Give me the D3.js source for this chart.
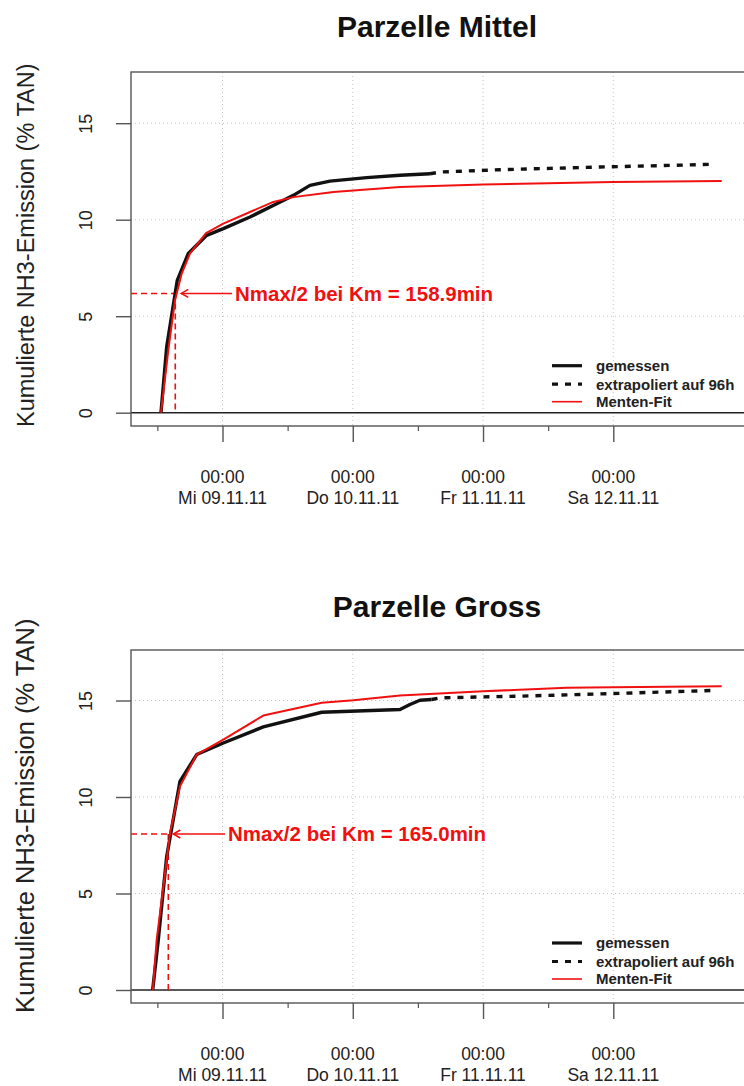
<!DOCTYPE html>
<html><head><meta charset="utf-8">
<script src="https://cdn.jsdelivr.net/npm/d3@7"></script>
<style>
body{margin:0;background:#fff;}
svg{display:block;font-family:"Liberation Sans",Arial,Helvetica,sans-serif;}
</style></head>
<body><svg id="c" width="744" height="1086"></svg>
<script>
// ---------- data ----------
const panelTitles = ["Parzelle Mittel", "Parzelle Gross"];
const yTicks = [0, 5, 10, 15];
const xMajorTicks = ["2011-11-09 00:00", "2011-11-10 00:00", "2011-11-11 00:00", "2011-11-12 00:00"];
const xMinorTicks = ["2011-11-08 12:00", "2011-11-09 12:00", "2011-11-10 12:00", "2011-11-11 12:00"];
const xTickTimeLabels = ["00:00", "00:00", "00:00", "00:00"];
const xTickDateLabels = ["Mi 09.11.11", "Do 10.11.11", "Fr 11.11.11", "Sa 12.11.11"];
const legendLabels = ["gemessen", "extrapoliert auf 96h", "Menten-Fit"];
const yAxisTitle = "Kumulierte NH3-Emission (% TAN)";

// Parzelle Mittel
const mittelMeasTime = ["2011-11-08 12:40","2011-11-08 13:43","2011-11-08 15:40","2011-11-08 17:42","2011-11-08 21:05","2011-11-09 00:09","2011-11-09 05:04","2011-11-09 09:59","2011-11-09 13:03","2011-11-09 16:07","2011-11-09 19:48","2011-11-10 02:34","2011-11-10 08:42","2011-11-10 14:14"];
const mittelMeasVal  = [0, 3.41, 6.86, 8.25, 9.19, 9.54, 10.14, 10.83, 11.26, 11.78, 12.00, 12.18, 12.30, 12.38];
const mittelExtTime  = ["2011-11-10 14:14","2011-11-10 16:04","2011-11-11 03:07","2011-11-11 12:20","2011-11-11 21:32","2011-11-12 08:36","2011-11-12 18:20"];
const mittelExtVal   = [12.38, 12.47, 12.59, 12.66, 12.73, 12.80, 12.87];
const mittelFitTime  = ["2011-11-08 12:40","2011-11-08 14:01","2011-11-08 15:15","2011-11-08 16:29","2011-11-08 18:01","2011-11-08 20:58","2011-11-09 00:09","2011-11-09 05:04","2011-11-09 09:22","2011-11-09 13:03","2011-11-09 20:25","2011-11-10 08:42","2011-11-11 00:03","2011-11-12 00:00","2011-11-12 19:58"];
const mittelFitVal   = [0, 3.24, 5.83, 7.21, 8.25, 9.31, 9.80, 10.40, 10.92, 11.17, 11.43, 11.69, 11.83, 11.95, 12.00];
const mittelKmTime = "2011-11-08 15:18";
const mittelHalfMax = 6.18;
const mittelLabel = "Nmax/2 bei Km = 158.9min";

// Parzelle Gross
const grossMeasTime = ["2011-11-08 11:08","2011-11-08 12:10","2011-11-08 13:43","2011-11-08 16:10","2011-11-08 19:15","2011-11-09 00:09","2011-11-09 07:31","2011-11-09 18:17","2011-11-10 08:42","2011-11-10 10:32","2011-11-10 12:23","2011-11-10 14:32"];
const grossMeasVal  = [0, 2.59, 6.92, 10.81, 12.20, 12.80, 13.63, 14.39, 14.53, 14.79, 15.01, 15.05];
const grossExtTime  = ["2011-11-10 14:32","2011-11-10 16:04","2011-11-11 06:12","2011-11-12 00:00","2011-11-12 18:25"];
const grossExtVal   = [15.05, 15.14, 15.22, 15.36, 15.52];
const grossFitTime  = ["2011-11-08 11:10","2011-11-08 11:52","2011-11-08 13:25","2011-11-08 14:20","2011-11-08 16:10","2011-11-08 19:15","2011-11-09 00:09","2011-11-09 07:31","2011-11-09 18:17","2011-11-10 00:06","2011-11-10 08:42","2011-11-11 00:03","2011-11-11 15:25","2011-11-12 00:00","2011-11-12 19:58"];
const grossFitVal   = [0, 2.59, 6.06, 8.13, 10.55, 12.20, 12.97, 14.22, 14.88, 15.01, 15.26, 15.48, 15.66, 15.69, 15.74];
const grossKmTime = "2011-11-08 14:01";
const grossHalfMax = 8.08;
const grossLabel = "Nmax/2 bei Km = 165.0min";

// ---------- drawing ----------
const parse = d3.timeParse("%Y-%m-%d %H:%M");
const svg = d3.select("#c");
const RED = "#f01010";
const FONT = "'Liberation Sans',Arial,Helvetica,sans-serif";

const x = d3.scaleTime()
  .domain([parse("2011-11-09 00:00"), parse("2011-11-12 00:00")])
  .range([222.5, 613.3]);

const boxLeft = 131, boxRight = 762;

const panels = [
  {title: panelTitles[0], titleY: 26, zeroY: 412.7, boxTop: 72, boxBottom: 426,
   yTitleStart: 427, yTitleSize: 23.5,
   meas: [mittelMeasTime, mittelMeasVal], ext: [mittelExtTime, mittelExtVal], fit: [mittelFitTime, mittelFitVal],
   km: mittelKmTime, half: mittelHalfMax, label: mittelLabel, labelX: 235, arrowTipDx: 6},
  {title: panelTitles[1], titleY: 606, zeroY: 990, boxTop: 650, boxBottom: 1003,
   yTitleStart: 1013, yTitleSize: 25.5,
   meas: [grossMeasTime, grossMeasVal], ext: [grossExtTime, grossExtVal], fit: [grossFitTime, grossFitVal],
   km: grossKmTime, half: grossHalfMax, label: grossLabel, labelX: 228, arrowTipDx: 5}
];

panels.forEach(p => {
  const y = d3.scaleLinear().domain([0, 15]).range([p.zeroY, p.zeroY - 15 * 19.3]);
  const g = svg.append("g");

  // title
  g.append("text").attr("x", 437).attr("y", p.titleY).attr("dy", "0.36em")
    .attr("text-anchor", "middle").attr("font-family", FONT)
    .attr("font-weight", "bold").attr("font-size", 30).attr("fill", "#111").text(p.title);

  // grid
  g.selectAll(".hg").data(yTicks.filter(v => v > 0)).join("line")
    .attr("x1", boxLeft).attr("x2", boxRight).attr("y1", d => y(d)).attr("y2", d => y(d))
    .attr("stroke", "#c4c4c4").attr("stroke-width", 1).attr("stroke-dasharray", "1,3");
  g.selectAll(".vg").data(xMajorTicks).join("line")
    .attr("x1", d => x(parse(d))).attr("x2", d => x(parse(d)))
    .attr("y1", p.boxTop).attr("y2", p.boxBottom)
    .attr("stroke", "#c4c4c4").attr("stroke-width", 1).attr("stroke-dasharray", "1,3");

  // zero line
  g.append("line").attr("x1", boxLeft).attr("x2", boxRight)
    .attr("y1", y(0)).attr("y2", y(0)).attr("stroke", "#222").attr("stroke-width", 1.5);

  // box
  g.append("rect").attr("x", boxLeft).attr("y", p.boxTop)
    .attr("width", boxRight - boxLeft).attr("height", p.boxBottom - p.boxTop)
    .attr("fill", "none").attr("stroke", "#555").attr("stroke-width", 1.4);

  // y axis
  const ya = d3.axisLeft(y).tickValues(yTicks).tickSize(15).tickFormat(d3.format("d"));
  const yg = g.append("g").attr("transform", `translate(${boxLeft},0)`).call(ya);
  yg.select(".domain").remove();
  yg.selectAll(".tick line").attr("stroke", "#555").attr("stroke-width", 1.4);
  yg.selectAll(".tick text").attr("x", null).attr("dy", null)
    .attr("transform", "translate(-45,0) rotate(-90)")
    .attr("text-anchor", "middle").attr("dominant-baseline", "central")
    .attr("font-family", FONT).attr("font-size", 18).attr("fill", "#222");

  // y axis title
  g.append("text")
    .attr("transform", `translate(34,${p.yTitleStart}) rotate(-90)`)
    .attr("text-anchor", "start").attr("font-family", FONT).attr("font-size", p.yTitleSize).attr("fill", "#222")
    .text(yAxisTitle);

  // x axis
  const xMaj = d3.axisBottom(x).tickValues(xMajorTicks.map(parse)).tickSize(16).tickFormat("");
  const xg = g.append("g").attr("transform", `translate(0,${p.boxBottom})`).call(xMaj);
  xg.select(".domain").remove();
  xg.selectAll(".tick line").attr("stroke", "#555").attr("stroke-width", 1.4);
  const xMin = d3.axisBottom(x).tickValues(xMinorTicks.map(parse)).tickSize(5).tickFormat("");
  const xg2 = g.append("g").attr("transform", `translate(0,${p.boxBottom})`).call(xMin);
  xg2.select(".domain").remove();
  xg2.selectAll(".tick line").attr("stroke", "#555").attr("stroke-width", 1.2);
  xMajorTicks.forEach((d, i) => {
    const t = g.append("text").attr("x", x(parse(d))).attr("text-anchor", "middle")
      .attr("font-family", FONT).attr("font-size", 17.5).attr("fill", "#222");
    t.append("tspan").attr("x", x(parse(d))).attr("y", p.boxBottom + 51).attr("dy", "0.35em").text(xTickTimeLabels[i]);
    t.append("tspan").attr("x", x(parse(d))).attr("y", p.boxBottom + 72).attr("dy", "0.35em").text(xTickDateLabels[i]);
  });

  const line = d3.line().x(d => x(d[0])).y(d => y(d[1]));
  const zip = (ts, vs) => ts.map((t, i) => [parse(t), vs[i]]);

  // annotation dashed lines
  const kx = x(parse(p.km)), hy = y(p.half);
  g.append("line").attr("x1", boxLeft).attr("x2", kx).attr("y1", hy).attr("y2", hy)
    .attr("stroke", RED).attr("stroke-width", 1.6).attr("stroke-dasharray", "6,4");
  g.append("line").attr("x1", kx).attr("x2", kx).attr("y1", hy).attr("y2", y(0))
    .attr("stroke", RED).attr("stroke-width", 1.6).attr("stroke-dasharray", "6,4");

  // series
  g.append("path").datum(zip(p.ext[0], p.ext[1])).attr("d", line)
    .attr("fill", "none").attr("stroke", "#111").attr("stroke-width", 3.4).attr("stroke-dasharray", "6,7");
  g.append("path").datum(zip(p.meas[0], p.meas[1])).attr("d", line)
    .attr("fill", "none").attr("stroke", "#111").attr("stroke-width", 3.4).attr("stroke-linejoin", "round");
  g.append("path").datum(zip(p.fit[0], p.fit[1])).attr("d", line)
    .attr("fill", "none").attr("stroke", RED).attr("stroke-width", 2).attr("stroke-linejoin", "round");

  // arrow
  const tip = kx + p.arrowTipDx, tail = p.labelX - 3;
  g.append("line").attr("x1", tail).attr("x2", tip).attr("y1", hy).attr("y2", hy)
    .attr("stroke", RED).attr("stroke-width", 1.6);
  g.append("path").attr("d", `M${tip + 7},${hy - 4}L${tip},${hy}L${tip + 7},${hy + 4}`)
    .attr("fill", "none").attr("stroke", RED).attr("stroke-width", 1.6);
  g.append("text").attr("x", p.labelX).attr("y", hy).attr("dy", "0.36em")
    .attr("font-family", FONT).attr("font-weight", "bold").attr("font-size", 20.5)
    .attr("fill", RED).text(p.label);

  // legend
  const legY = [p.zeroY - 47, p.zeroY - 28.5, p.zeroY - 11];
  const legStyles = [
    {stroke: "#111", w: 3.2, dash: null},
    {stroke: "#111", w: 3.2, dash: "6,7"},
    {stroke: RED, w: 1.6, dash: null}
  ];
  legendLabels.forEach((lab, i) => {
    g.append("line").attr("x1", 552).attr("x2", 582).attr("y1", legY[i]).attr("y2", legY[i])
      .attr("stroke", legStyles[i].stroke).attr("stroke-width", legStyles[i].w)
      .attr("stroke-dasharray", legStyles[i].dash);
    g.append("text").attr("x", 596).attr("y", legY[i]).attr("dy", "0.36em")
      .attr("font-family", FONT).attr("font-weight", "bold").attr("font-size", 15)
      .attr("fill", "#222").text(lab);
  });
});
</script>
</body></html>
